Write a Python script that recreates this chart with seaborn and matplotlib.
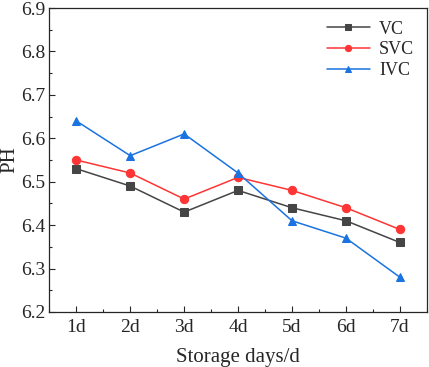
import matplotlib.pyplot as plt
import seaborn as sns
import pandas as pd
import numpy as np
from matplotlib.ticker import MultipleLocator, AutoMinorLocator

days = ["1d", "2d", "3d", "4d", "5d", "6d", "7d"]
vc = [6.53, 6.49, 6.43, 6.48, 6.44, 6.41, 6.36]
svc = [6.55, 6.52, 6.46, 6.51, 6.48, 6.44, 6.39]
ivc = [6.64, 6.56, 6.61, 6.52, 6.41, 6.37, 6.28]

sns.set_style("ticks")
plt.rcParams['font.family'] = ['Liberation Serif', 'DejaVu Serif']
plt.rcParams['xtick.direction'] = 'in'
plt.rcParams['ytick.direction'] = 'in'

series = {"VC": (vc, "#454545", "s"),
          "SVC": (svc, "#ff3535", "o"),
          "IVC": (ivc, "#1a73e0", "^")}

fig, ax = plt.subplots(figsize=(4.29, 3.67), dpi=100)
fig.subplots_adjust(left=0.115, right=0.995, top=0.978, bottom=0.15)

x = np.arange(len(days))
for nombre, (vals, col, mk) in series.items():
  sns.lineplot(x=x, y=vals, ax=ax, color=col, marker=mk, markersize=6,
               markeredgecolor=col, linewidth=1.1, label=nombre)

ax.set_xlim(-0.5, 6.5)
ax.set_ylim(6.2, 6.9)
ax.set_xticks(x)
ax.set_xticklabels(days)
ax.xaxis.set_minor_locator(MultipleLocator(0.5))
ax.yaxis.set_major_locator(MultipleLocator(0.1))
ax.yaxis.set_minor_locator(MultipleLocator(0.05))
ax.tick_params(axis='both', which='major', labelsize=14, length=4, width=0.8)
ax.tick_params(axis='x', which='major', pad=5)
ax.tick_params(axis='y', which='major', pad=3)
ax.tick_params(axis='both', which='minor', length=2.5, width=0.8)
ax.tick_params(top=False, right=False, which='both')
for s in ax.spines.values():
  s.set_linewidth(0.9)

ax.set_xlabel("Storage days/d", fontsize=15, labelpad=9)
ax.set_ylabel("PH", fontsize=15)
ax.yaxis.set_label_coords(-0.08, 0.5)

ax.legend(loc='upper right', frameon=False, fontsize=13, handlelength=2.4,
          borderaxespad=0.3, labelspacing=0.2, markerscale=0.75, handletextpad=0.5)

plt.savefig("out.png", dpi=100)
